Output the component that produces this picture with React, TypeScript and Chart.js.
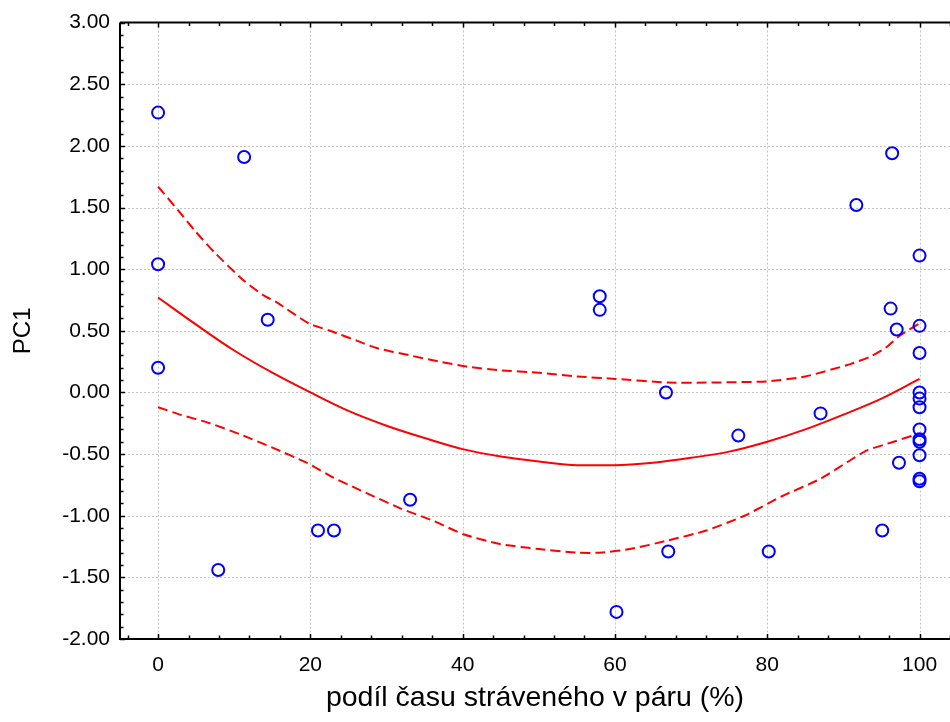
import React, { useEffect, useRef } from "react";
import { Chart, registerables } from "chart.js";

Chart.register(...registerables);

// ---- data ----
const xValues = [
  0, 0, 0, 7.9, 11.3, 14.4, 21.0, 23.1, 33.1, 58.0, 58.0, 60.2, 66.7, 67.0,
  76.2, 80.2, 87.0, 91.7, 95.1, 96.4, 96.2, 97.0, 97.3,
  100, 100, 100, 100, 100, 100, 100, 100, 100, 100, 100, 100,
];
const pc1Values = [
  2.27, 1.04, 0.2, -1.44, 1.91, 0.59, -1.12, -1.12, -0.87, 0.78, 0.67, -1.78, 0.0, -1.29,
  -0.35, -1.29, -0.17, 1.52, -1.12, 1.94, 0.68, 0.51, -0.57,
  1.11, 0.54, 0.32, 0.0, -0.05, -0.12, -0.3, -0.38, -0.4, -0.51, -0.7, -0.72,
];

const fitX = [0, 5, 10, 15, 20, 25, 30, 35, 40, 45, 50, 55, 60, 65, 70, 75, 80, 85, 90, 95, 100];
const fitY = [0.77, 0.55, 0.34, 0.16, 0.0, -0.15, -0.27, -0.37, -0.46, -0.52, -0.56, -0.59, -0.59, -0.57, -0.53, -0.48, -0.4, -0.3, -0.18, -0.05, 0.11];

const upperX = [0, 2.6, 5, 7.5, 11.2, 13.8, 15.6, 19.8, 22.6, 26.1, 28.7, 33.1, 37, 40.5, 44.9, 50, 55, 60, 67, 72, 80, 85, 90.9, 93.5, 95.5, 97.4, 100];
const upperY = [1.67, 1.48, 1.3, 1.13, 0.91, 0.79, 0.73, 0.56, 0.5, 0.42, 0.36, 0.3, 0.25, 0.21, 0.18, 0.16, 0.13, 0.11, 0.08, 0.08, 0.09, 0.13, 0.23, 0.29, 0.36, 0.46, 0.56];

const lowerX = [0, 2.9, 6.8, 10.8, 15.1, 19.5, 23, 26.1, 31.8, 36.1, 40.1, 44.9, 50, 55, 58, 62, 67, 72, 77, 82, 87, 90.9, 93.1, 96.6, 99.2, 100];
const lowerY = [-0.12, -0.18, -0.25, -0.34, -0.45, -0.57, -0.69, -0.78, -0.94, -1.04, -1.15, -1.23, -1.27, -1.3, -1.3, -1.27, -1.2, -1.12, -1.0, -0.84, -0.7, -0.55, -0.47, -0.4, -0.35, -0.35];

const xTickValues = [0, 20, 40, 60, 80, 100];
const yTickValues = [-2, -1.5, -1, -0.5, 0, 0.5, 1, 1.5, 2, 2.5, 3];

const X_MIN = -5;
const X_MAX = 104;
const Y_MIN = -2;
const Y_MAX = 3;

const FONT = "'Liberation Sans', Arial, Helvetica, sans-serif";

const zip = (xs: number[], ys: number[]) => xs.map((x, i) => ({ x, y: ys[i] }));

const framePlugin = {
  id: "frame",
  beforeDatasetsDraw(chart: any) {
    const { ctx, chartArea: a, scales } = chart;
    const xs = scales.x;
    const ys = scales.y;
    ctx.save();
    // dotted grid
    ctx.strokeStyle = "#c4c4c4";
    ctx.lineWidth = 1;
    ctx.setLineDash([2, 2]);
    for (const v of xTickValues) {
      const px = Math.round(xs.getPixelForValue(v)) + 0.5;
      ctx.beginPath();
      ctx.moveTo(px, a.top);
      ctx.lineTo(px, a.bottom);
      ctx.stroke();
    }
    for (const v of yTickValues) {
      if (v === Y_MIN || v === Y_MAX) continue;
      const py = Math.round(ys.getPixelForValue(v)) + 0.5;
      ctx.beginPath();
      ctx.moveTo(a.left, py);
      ctx.lineTo(a.right, py);
      ctx.stroke();
    }
    ctx.setLineDash([]);
    // axis lines
    ctx.strokeStyle = "#000";
    ctx.lineWidth = 2;
    ctx.beginPath();
    ctx.moveTo(a.left, a.top);
    ctx.lineTo(a.right, a.top);
    ctx.moveTo(a.left, a.top);
    ctx.lineTo(a.left, a.bottom);
    ctx.lineTo(a.right, a.bottom);
    ctx.stroke();
    // inward ticks
    ctx.lineWidth = 1.5;
    ctx.beginPath();
    for (let v = -4; v <= 104; v += 4) {
      const px = Math.round(xs.getPixelForValue(v)) + 0.5;
      const len = v % 20 === 0 ? 5 : 3.5;
      ctx.moveTo(px, a.bottom);
      ctx.lineTo(px, a.bottom - len);
      ctx.moveTo(px, a.top);
      ctx.lineTo(px, a.top + len);
    }
    for (let i = -20; i <= 30; i++) {
      const py = Math.round(ys.getPixelForValue(i / 10)) + 0.5;
      const len = i % 5 === 0 ? 5 : 3.5;
      ctx.moveTo(a.left, py);
      ctx.lineTo(a.left + len, py);
    }
    ctx.stroke();
    ctx.restore();
  },
};

export default function App() {
  const ref = useRef<HTMLCanvasElement | null>(null);

  useEffect(() => {
    if (!ref.current) return;
    const chart = new Chart(ref.current, {
      type: "scatter",
      data: {
        datasets: [
          {
            label: "PC1",
            data: zip(xValues, pc1Values),
            pointStyle: "circle",
            pointRadius: 6,
            pointBorderWidth: 2,
            borderColor: "#0000ff",
            backgroundColor: "rgba(0,0,0,0)",
            pointBackgroundColor: "rgba(0,0,0,0)",
            showLine: false,
          },
          {
            label: "fit",
            data: zip(fitX, fitY),
            showLine: true,
            borderColor: "#ff0000",
            borderWidth: 2,
            pointRadius: 0,
            cubicInterpolationMode: "monotone",
          },
          {
            label: "upper",
            data: zip(upperX, upperY),
            showLine: true,
            borderColor: "#ff0000",
            borderWidth: 2,
            borderDash: [10, 5],
            pointRadius: 0,
            tension: 0.2,
          },
          {
            label: "lower",
            data: zip(lowerX, lowerY),
            showLine: true,
            borderColor: "#ff0000",
            borderWidth: 2,
            borderDash: [10, 5],
            pointRadius: 0,
            tension: 0.2,
          },
        ],
      } as any,
      options: {
        responsive: false,
        animation: false,
        layout: { autoPadding: false, padding: { top: 20, right: 0, left: 0, bottom: 0 } },
        plugins: { legend: { display: false }, tooltip: { enabled: false } },
        scales: {
          x: {
            type: "linear",
            min: X_MIN,
            max: X_MAX,
            afterBuildTicks: (s: any) => {
              s.ticks = xTickValues.map((v) => ({ value: v }));
            },
            afterFit: (s: any) => {
              s.height = 83;
              s.paddingLeft = 0;
              s.paddingRight = 0;
            },
            grid: { display: false, drawTicks: false },
            border: { display: false },
            ticks: {
              color: "#000",
              font: { family: FONT, size: 21 },
              padding: 14,
              maxRotation: 0,
              autoSkip: false,
            },
            title: {
              display: true,
              text: "podíl času stráveného v páru (%)",
              color: "#000",
              font: { family: FONT, size: 28.5 },
              padding: { top: 0, bottom: 7 },
            },
          },
          y: {
            type: "linear",
            min: Y_MIN,
            max: Y_MAX,
            afterBuildTicks: (s: any) => {
              s.ticks = yTickValues.map((v) => ({ value: v }));
            },
            afterFit: (s: any) => {
              s.width = 120;
            },
            grid: { display: false, drawTicks: false },
            border: { display: false },
            ticks: {
              color: "#000",
              font: { family: FONT, size: 21 },
              padding: 10,
              autoSkip: false,
              callback: (v: any) => Number(v).toFixed(2),
            },
            title: {
              display: true,
              text: "PC1",
              color: "#000",
              font: { family: FONT, size: 24 },
              padding: { top: 9, bottom: 0 },
            },
          },
        },
      } as any,
      plugins: [framePlugin],
    });
    return () => chart.destroy();
  }, []);

  return (
    <div style={{ position: "fixed", left: 0, top: 0, width: 950, height: 722, background: "#fff" }}>
      <canvas ref={ref} width={950} height={722} style={{ display: "block" }} />
    </div>
  );
}
